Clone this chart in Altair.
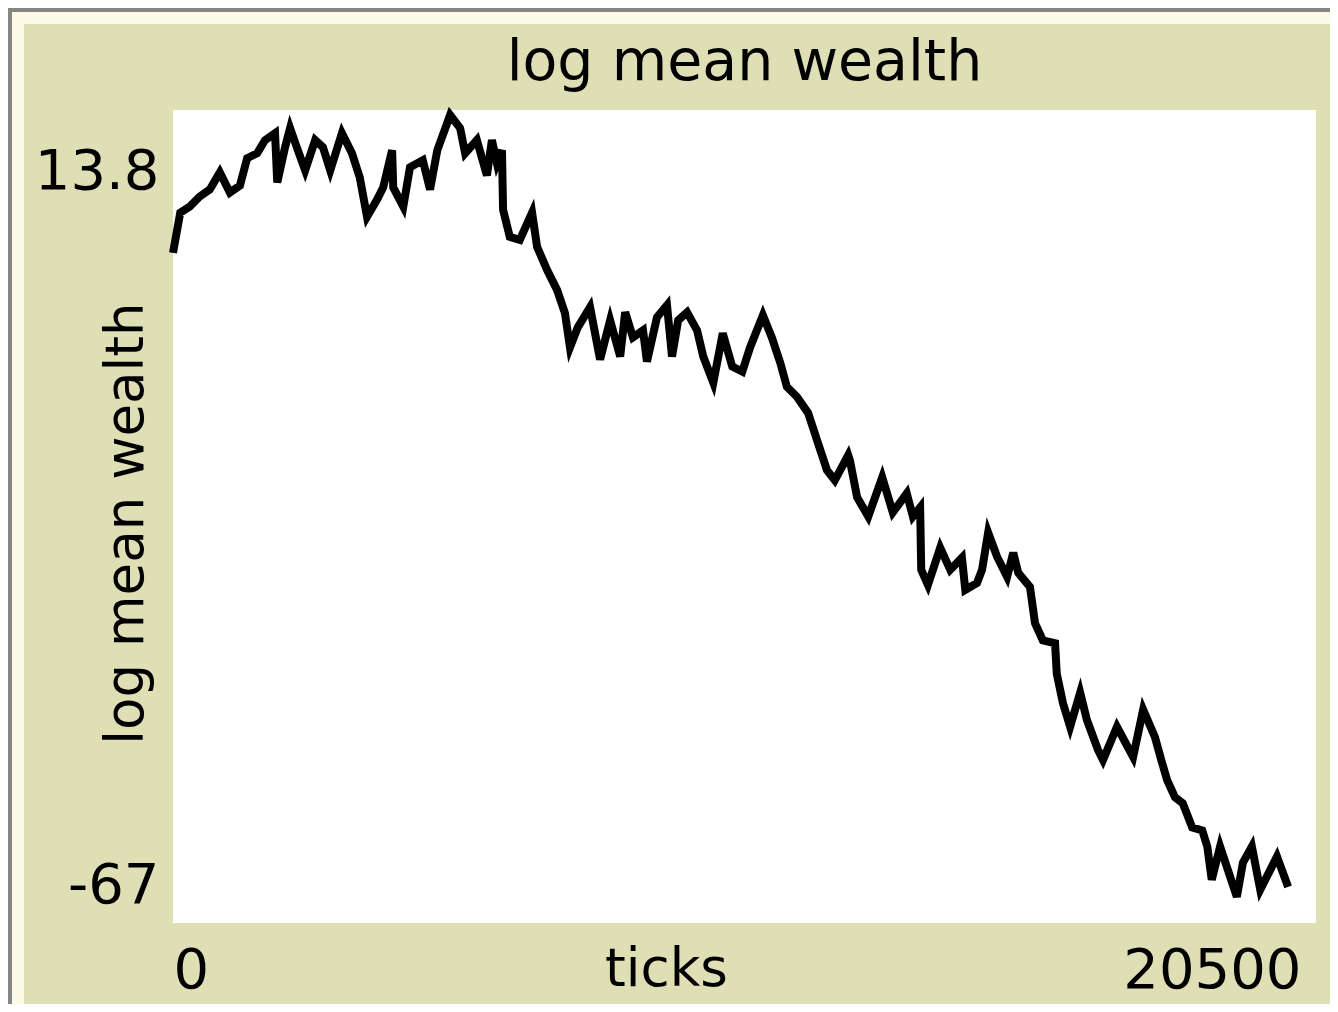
import altair as alt
import pandas as pd

# ---- data ----
ticks = [0, 130, 300, 480, 660, 840, 1020, 1200, 1330, 1510,
         1650, 1830, 1870, 2010, 2100, 2220, 2370, 2550, 2690, 2820,
         3030, 3210, 3350, 3480, 3660, 3770, 3930, 3950, 4130, 4250,
         4480, 4610, 4740, 4970, 5150, 5240, 5450, 5630, 5720, 5810,
         5900, 5920, 6040, 6220, 6440, 6530, 6710, 6890, 7030, 7120,
         7260, 7480, 7660, 7840, 8020, 8110, 8250, 8430, 8500, 8680,
         8860, 8950, 9060, 9220, 9400, 9510, 9690, 9860, 10030, 10210,
         10350, 10580, 10740, 10890, 11010, 11190, 11390, 11550, 11730, 11870,
         12110, 12140, 12270, 12470, 12720, 12910, 13160, 13270, 13400, 13420,
         13540, 13760, 13940, 14150, 14210, 14420, 14510, 14620, 14780, 14960,
         15070, 15160, 15370, 15460, 15600, 15820, 15850, 15960, 16090, 16270,
         16390, 16590, 16680, 16930, 17220, 17400, 17610, 17740, 17830, 17970,
         18110, 18280, 18460, 18550, 18630, 18780, 18960, 19080, 19190, 19350,
         19500, 19800, 20000]

log_mean_wealth = [-0.4, 3.6, 4.2, 5.2, 5.9, 7.6, 5.6, 6.3, 9.0, 9.5,
                   10.8, 11.5, 6.6, 10.1, 12.0, 10.1, 7.8, 10.8, 10.1, 7.8,
                   11.5, 9.5, 7.1, 3.2, 4.9, 6.1, 9.8, 6.1, 4.2, 8.1,
                   8.8, 5.9, 9.8, 13.3, 12.0, 9.5, 10.8, 7.3, 10.8, 8.5,
                   9.8, 3.9, 1.2, 0.9, 3.6, 0.2, -2.1, -4.1, -6.4, -9.8,
                   -7.8, -5.8, -11.0, -7.1, -10.7, -6.3, -8.8, -8.1, -11.2, -6.8,
                   -5.6, -10.7, -7.1, -6.3, -8.1, -10.7, -13.3, -8.4, -11.7, -12.2,
                   -9.8, -6.6, -8.8, -11.3, -13.7, -14.7, -16.3, -19.0, -22.0, -23.0,
                   -20.5, -21.0, -24.7, -26.6, -22.7, -26.2, -24.3, -26.6, -25.7, -31.9,
                   -33.4, -29.7, -31.9, -30.7, -33.9, -33.2, -31.9, -28.2, -30.6, -32.6,
                   -30.2, -32.2, -33.6, -37.2, -38.9, -39.2, -42.2, -45.1, -47.5, -44.1,
                   -46.8, -49.8, -50.8, -47.5, -50.5, -45.8, -48.5, -51.1, -52.8, -54.5,
                   -55.1, -57.5, -57.8, -59.4, -62.7, -59.4, -62.4, -64.4, -61.0, -59.4,
                   -63.7, -60.4, -63.4]

x_labels = [0, 20500]
y_labels = [-67, 13.8]
x_domain = [0, 20500]
y_domain = [-67, 13.8]

df = pd.DataFrame({"ticks": ticks, "wealth": log_mean_wealth})

FONT = "DejaVu Sans"
W, H = 1143, 813
KHAKI = "#dfdfb6"
CREAM = "#fbfbe6"
GRAY = "#868686"

line = alt.Chart(df).mark_line(color="black", strokeWidth=8).encode(
    x=alt.X(
        "ticks:Q",
        scale=alt.Scale(domain=x_domain, nice=False, zero=False),
        axis=alt.Axis(
            values=x_labels, title="ticks", domain=False, ticks=False, tickSize=0, grid=False,
            labelFont=FONT, labelFontSize=56, labelColor="black",
            labelBaseline="alphabetic", labelPadding=64,
            labelAlign={"condition": {"test": "datum.value == 0", "value": "left"}, "value": "right"},
            labelOffset={"condition": {"test": "datum.value == 0", "value": 0}, "value": -15},
            labelExpr="'' + datum.value",
            titleFont=FONT, titleFontSize=53, titleFontWeight="normal", titleColor="black",
            titleX=493, titleY=62, titleBaseline="alphabetic", titleAlign="center",
        ),
    ),
    y=alt.Y(
        "wealth:Q",
        scale=alt.Scale(domain=y_domain, nice=False, zero=False),
        axis=alt.Axis(
            values=y_labels, title="log mean wealth", domain=False, ticks=False, tickSize=0, grid=False,
            labelFont=FONT, labelFontSize=56, labelColor="black",
            labelBaseline="alphabetic", labelAlign="right", labelPadding=14,
            labelOffset={"condition": {"test": "datum.value > 0", "value": 78}, "value": -21},
            labelExpr="'' + datum.value",
            titleFont=FONT, titleFontSize=53, titleFontWeight="normal", titleColor="black",
            titleX=-31, titleY=413, titleAngle=270, titleBaseline="alphabetic", titleAlign="center",
        ),
    ),
)

one = pd.DataFrame({"k": [0]})


def strip(x, x2, y, y2, color):
    return alt.Chart(one).mark_rect(color=color).encode(
        x=alt.value(x), x2=alt.value(x2), y=alt.value(y), y2=alt.value(y2)
    )


frame = [
    strip(-161, 1170, -98, -86, CREAM),
    strip(-161, -149, -98, 894, CREAM),
    strip(-165, -161, -102, 894, GRAY),
    strip(-165, 1170, -102, -98, GRAY),
]

chart = alt.layer(*frame, line).properties(
    width=W,
    height=H,
    autosize=alt.AutoSizeParams(type="none"),
    padding={"left": 165, "top": 102, "right": 14, "bottom": 81},
    title=alt.TitleParams(
        "log mean wealth", font=FONT, fontSize=57, fontWeight="normal", color="black",
        anchor="middle", frame="group", baseline="alphabetic", offset=-77, dy=52,
    ),
).configure(background=KHAKI).configure_view(fill="white", strokeWidth=0)

chart.save("out.html", embed_options={"renderer": "svg", "actions": False})
